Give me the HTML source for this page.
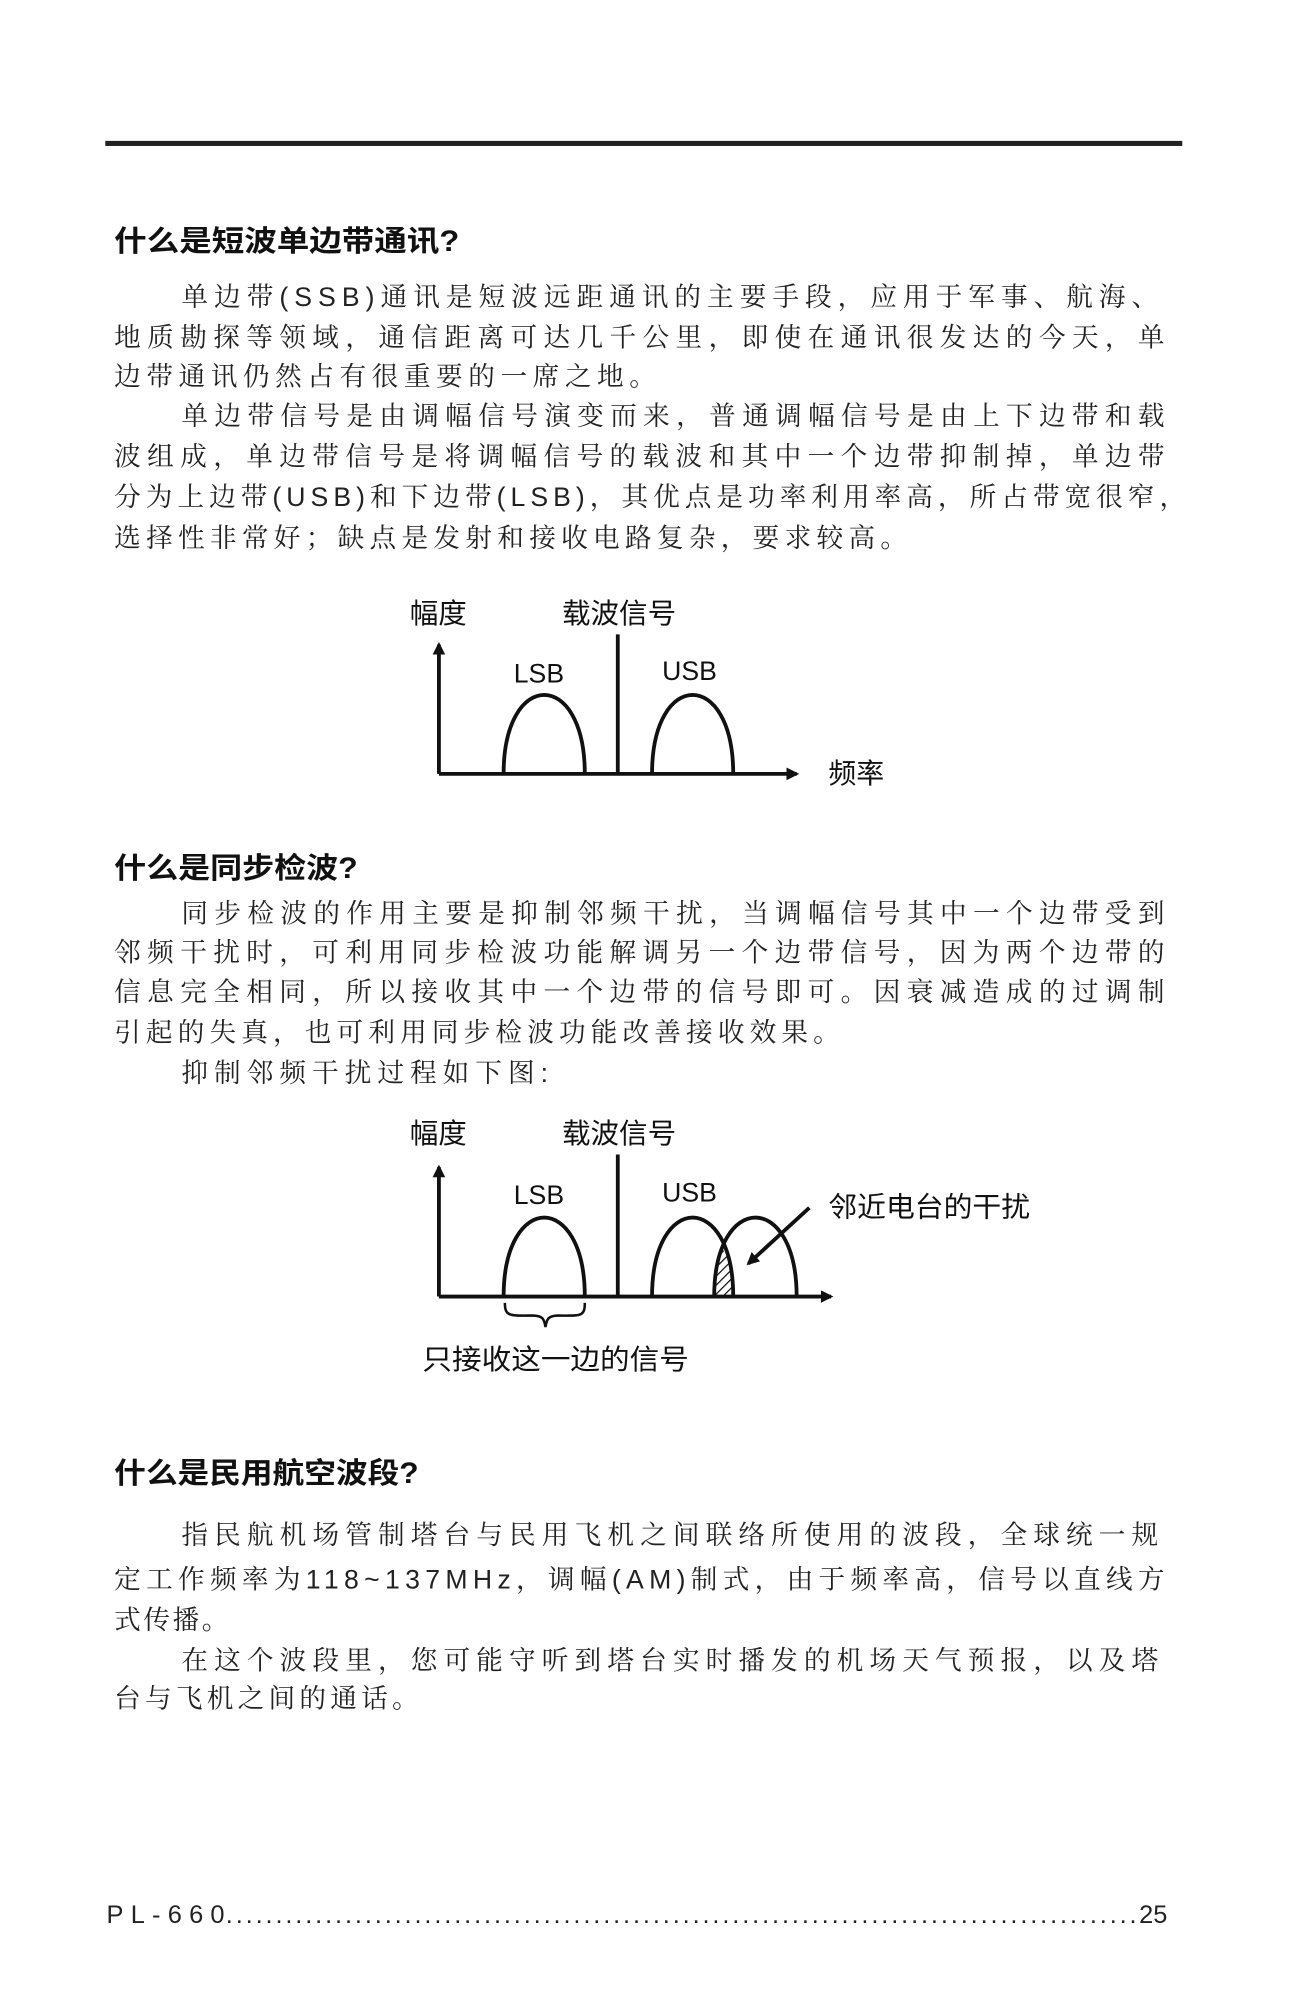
<!DOCTYPE html>
<html><head><meta charset="utf-8"><style>
html,body{margin:0;padding:0;background:#fff;}
svg{display:block;}
.b{font-family:"Liberation Sans","Noto Serif CJK SC","Noto Sans CJK SC",sans-serif;font-size:21px;fill:#222;}
.h{font-family:"Liberation Sans","Noto Sans CJK SC",sans-serif;font-size:23px;font-weight:bold;fill:#111;}
.d{font-family:"Liberation Sans","Noto Sans CJK SC",sans-serif;font-size:22px;fill:#111;}
.e{font-family:"Liberation Sans",sans-serif;font-size:21px;fill:#111;}
</style></head><body>
<svg width="1299" height="2007" viewBox="0 0 1024 1582" xmlns="http://www.w3.org/2000/svg">
<defs>
<pattern id="hat" width="5" height="5" patternUnits="userSpaceOnUse" patternTransform="rotate(45)">
<rect width="5" height="5" fill="#fff"/><line x1="0" y1="0" x2="0" y2="5" stroke="#111" stroke-width="2"/></pattern>
<marker id="ar" markerWidth="10" markerHeight="10" refX="8" refY="5" orient="auto" markerUnits="userSpaceOnUse"><path d="M0,0 L10,5 L0,10 Z" fill="#111"/></marker>
</defs>
<rect x="83" y="111" width="849" height="4" fill="#222"/>

<text class="h" x="90" y="198" textLength="272" lengthAdjust="spacingAndGlyphs">什么是短波单边带通讯?</text>
<text class="b" x="143" y="241" textLength="770" lengthAdjust="spacing">单边带(SSB)通讯是短波远距通讯的主要手段，应用于军事、航海、</text>
<text class="b" x="90" y="273" textLength="828" lengthAdjust="spacing">地质勘探等领域，通信距离可达几千公里，即使在通讯很发达的今天，单</text>
<text class="b" x="90" y="304" textLength="427" lengthAdjust="spacing">边带通讯仍然占有很重要的一席之地。</text>
<text class="b" x="143" y="335" textLength="775" lengthAdjust="spacing">单边带信号是由调幅信号演变而来，普通调幅信号是由上下边带和载</text>
<text class="b" x="90" y="367" textLength="828" lengthAdjust="spacing">波组成，单边带信号是将调幅信号的载波和其中一个边带抑制掉，单边带</text>
<text class="b" x="90" y="399" textLength="845" lengthAdjust="spacing">分为上边带(USB)和下边带(LSB)，其优点是功率利用率高，所占带宽很窄，</text>
<text class="b" x="90" y="431" textLength="625" lengthAdjust="spacing">选择性非常好；缺点是发射和接收电路复杂，要求较高。</text>

<!-- diagram 1 -->
<g stroke="#111" stroke-width="3" fill="none">
<line x1="346" y1="610" x2="346" y2="508" marker-end="url(#ar)"/>
<line x1="346" y1="610" x2="628" y2="610" marker-end="url(#ar)"/>
<line x1="487" y1="500" x2="487" y2="610"/>
<path d="M397,610 C397,527 461,527 461,610"/>
<path d="M514,610 C514,527 578,527 578,610"/>
</g>
<text class="d" x="323" y="491" textLength="45" lengthAdjust="spacingAndGlyphs">幅度</text>
<text class="d" x="443" y="491" textLength="90" lengthAdjust="spacingAndGlyphs">载波信号</text>
<text class="e" x="405" y="538">LSB</text>
<text class="e" x="522" y="536">USB</text>
<text class="d" x="653" y="617" textLength="44" lengthAdjust="spacingAndGlyphs">频率</text>

<text class="h" x="90" y="692" textLength="192" lengthAdjust="spacingAndGlyphs">什么是同步检波?</text>
<text class="b" x="143" y="727" textLength="775" lengthAdjust="spacing">同步检波的作用主要是抑制邻频干扰，当调幅信号其中一个边带受到</text>
<text class="b" x="90" y="758" textLength="828" lengthAdjust="spacing">邻频干扰时，可利用同步检波功能解调另一个边带信号，因为两个边带的</text>
<text class="b" x="90" y="789" textLength="828" lengthAdjust="spacing">信息完全相同，所以接收其中一个边带的信号即可。因衰减造成的过调制</text>
<text class="b" x="90" y="821" textLength="572" lengthAdjust="spacing">引起的失真，也可利用同步检波功能改善接收效果。</text>
<text class="b" x="143" y="853" textLength="289" lengthAdjust="spacing">抑制邻频干扰过程如下图:</text>

<!-- diagram 2 -->
<path d="M563,1022 C563,1003 566,992 570,985 C575,993 578,1005 578,1022 Z" fill="url(#hat)" stroke="none"/>
<g stroke="#111" stroke-width="3" fill="none">
<line x1="346" y1="1022" x2="346" y2="920" marker-end="url(#ar)"/>
<line x1="346" y1="1022" x2="655" y2="1022" marker-end="url(#ar)"/>
<line x1="487" y1="910" x2="487" y2="1022"/>
<path d="M397,1022 C397,939 461,939 461,1022"/>
<path d="M514,1022 C514,939 578,939 578,1022"/>
<path d="M563,1022 C563,939 628,939 628,1022"/>
<line x1="638" y1="952" x2="590" y2="996" marker-end="url(#ar)"/>
<path d="M398,1027 C398,1038 402,1037 420,1037 C428,1037 429,1040 430,1046 C431,1040 432,1037 440,1037 C458,1037 461,1038 461,1027" stroke-width="2"/>
</g>
<text class="d" x="323" y="901" textLength="45" lengthAdjust="spacingAndGlyphs">幅度</text>
<text class="d" x="443" y="901" textLength="90" lengthAdjust="spacingAndGlyphs">载波信号</text>
<text class="e" x="405" y="949">LSB</text>
<text class="e" x="522" y="947">USB</text>
<text class="d" x="653" y="959" textLength="159" lengthAdjust="spacingAndGlyphs">邻近电台的干扰</text>
<text class="d" x="333" y="1079" textLength="210" lengthAdjust="spacingAndGlyphs">只接收这一边的信号</text>

<text class="h" x="90" y="1169" textLength="240" lengthAdjust="spacingAndGlyphs">什么是民用航空波段?</text>
<text class="b" x="143" y="1217" textLength="770" lengthAdjust="spacing">指民航机场管制塔台与民用飞机之间联络所使用的波段，全球统一规</text>
<text class="b" x="90" y="1252" textLength="828" lengthAdjust="spacing">定工作频率为118~137MHz，调幅(AM)制式，由于频率高，信号以直线方</text>
<text class="b" x="90" y="1284" textLength="90" lengthAdjust="spacing">式传播。</text>
<text class="b" x="143" y="1316" textLength="770" lengthAdjust="spacing">在这个波段里，您可能守听到塔台实时播发的机场天气预报，以及塔</text>
<text class="b" x="90" y="1346" textLength="240" lengthAdjust="spacing">台与飞机之间的通话。</text>

<text class="b" x="84" y="1516" style="font-size:20px" textLength="93" lengthAdjust="spacing">PL-660</text>
<text class="b" x="178" y="1516" style="font-size:20px" textLength="718" lengthAdjust="spacing">............................................................................................</text>
<text class="b" x="898" y="1516" style="font-size:20px">25</text>
</svg>
</body></html>
